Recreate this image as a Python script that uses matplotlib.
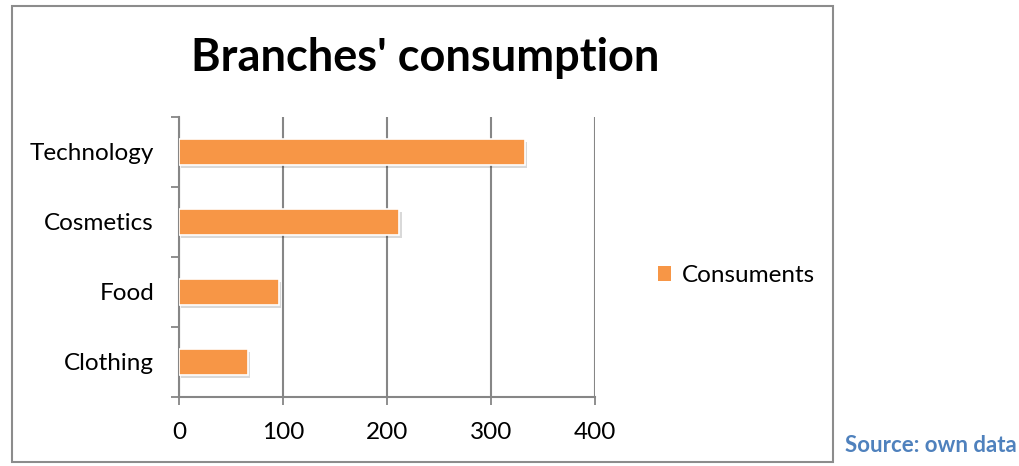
import matplotlib.pyplot as plt
import matplotlib.patheffects as pe
from matplotlib.patches import Rectangle

# data
branches = ['Clothing', 'Food', 'Cosmetics', 'Technology']
consuments = [66, 96, 212, 333]
xticks = [0, 100, 200, 300, 400]

orange = '#F79646'
grid_col = '#868686'

plt.rcParams['font.family'] = ['Lato', 'DejaVu Sans']

fig = plt.figure(figsize=(10.19, 4.66), dpi=100)

# outer chart frame
fig.patches.append(Rectangle((0.0118, 0.0086), 0.806, 0.9785, transform=fig.transFigure,
                             fill=False, edgecolor='#8c8c8c', linewidth=1.5))

ax = fig.add_axes([0.1757, 0.1481, 0.4082, 0.6009])
bars = ax.barh(range(len(branches)), consuments, height=0.37, color=orange,
               edgecolor='white', linewidth=1.2, zorder=3)
for b in bars:
    b.set_path_effects([pe.SimplePatchShadow(offset=(1.5, -2), shadow_rgbFace='#000000', alpha=0.15),
                        pe.Normal()])

ax.set_xlim(0, 400)
ax.set_ylim(-0.5, len(branches) - 0.5)
ax.set_xticks(xticks)
ax.set_yticks(range(len(branches)))
ax.set_yticklabels(branches)
ax.set_yticks([i - 0.5 for i in range(len(branches) + 1)], minor=True)
ax.tick_params(axis='y', which='major', length=0, pad=18, labelsize=17.5)
ax.tick_params(axis='y', which='minor', length=6, width=1.3, color=grid_col)
ax.tick_params(axis='x', length=6, width=1.3, color=grid_col, labelsize=17.5, pad=12)

ax.grid(axis='x', color=grid_col, linewidth=1.5, zorder=0)
for s in ['top', 'right']:
    ax.spines[s].set_visible(False)
for s in ['left', 'bottom']:
    ax.spines[s].set_color(grid_col)
    ax.spines[s].set_linewidth(1.5)

fig.text(0.417, 0.875, "Branches' consumption", ha='center', va='center',
         fontsize=32.5, fontweight='bold')

handle = Rectangle((0, 0), 1, 1, facecolor=orange, edgecolor='none')
fig.legend(handles=[handle], labels=['Consuments'], loc='center left',
           bbox_to_anchor=(0.624, 0.408), frameon=False, fontsize=17.5,
           handlelength=0.55, handleheight=0.55, handletextpad=0.45)

fig.text(0.829, 0.022, 'Source: own data', ha='left', va='bottom',
         fontsize=16, fontweight='bold', color='#4F81BD')

fig.savefig('out.png', dpi=100)
